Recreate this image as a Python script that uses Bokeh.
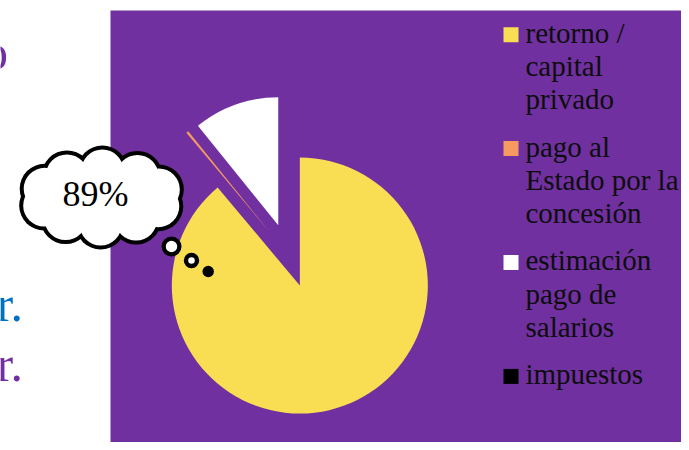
import numpy as np
from bokeh.plotting import figure
from bokeh.models import Range1d
from bokeh.core.properties import value
from bokeh.embed import file_html
from bokeh.resources import INLINE

# ---- data ----
categories = ["retorno / capital privado", "pago al Estado por la concesión",
              "estimación pago de salarios", "impuestos"]
legend_lines = [["retorno /", "capital", "privado"],
                ["pago al", "Estado por la", "concesión"],
                ["estimación", "pago de", "salarios"],
                ["impuestos"]]
shares = [88.9, 0.3, 10.8, 0.0]
colors = ["#F9DE54", "#F79A62", "#FFFFFF", "#000000"]
callout_text = ["89%"]
side_texts = ["o", "r.", "r."]
side_colors = ["#7030A0", "#0070C0", "#7030A0"]

PURPLE = "#7030A0"
SERIF = value("Liberation Serif")
W, H = 681, 442
BASE_FIX = 0.33  # baseline correction (in em) for the svg text renderer


def sy(y):
    """picture y (from top) -> data y"""
    return H - y


def ty(baseline, fs):
    return sy(baseline - BASE_FIX * fs)


p = figure(width=W, height=H, x_range=Range1d(0, W), y_range=Range1d(0, H),
           output_backend="svg", toolbar_location=None, min_border=0,
           x_axis_location=None, y_axis_location=None)
p.xgrid.grid_line_color = None
p.ygrid.grid_line_color = None
p.outline_line_color = None
p.background_fill_color = "white"
p.border_fill_color = "white"

# purple chart area
p.quad(left=110, right=W, bottom=0, top=sy(10), fill_color=PURPLE, line_color=None)

# ---- pie (clockwise from 12 o'clock, every slice exploded) ----
frac = np.array(shares, dtype=float) / sum(shares)
cum = np.concatenate([[0.0], np.cumsum(frac)])
start = np.pi / 2 - 2 * np.pi * cum[:-1]
end = np.pi / 2 - 2 * np.pi * cum[1:]
mid = (start + end) / 2
cx, cy, R, explode = 288.4, sy(255), 128, 32
keep = [i for i in range(len(shares)) if frac[i] > 0]
p.wedge(x=[cx + explode * np.cos(mid[i]) for i in keep],
        y=[cy + explode * np.sin(mid[i]) for i in keep],
        radius=R,
        start_angle=[start[i] for i in keep],
        end_angle=[end[i] for i in keep],
        direction="clock",
        fill_color=[colors[i] for i in keep], line_color=None)

# ---- thought cloud ----
ccx, ccy = 101, sy(197)
t = np.linspace(0, 2 * np.pi, 10, endpoint=False) + 0.3
bx = ccx + 60 * np.cos(t)
by = ccy + 27 * np.sin(t)
p.circle(bx, by, radius=25, fill_color="black", line_color=None)
p.circle(bx, by, radius=21, fill_color="white", line_color=None)
p.ellipse(ccx, ccy, width=120, height=54, fill_color="white", line_color=None)
p.circle([171, 191, 207.7], [sy(246), sy(260), sy(271)], radius=[10, 7.7, 5.7],
         fill_color="black", line_color=None)
p.circle([171, 191], [sy(246), sy(260)], radius=[5.7, 3.3],
         fill_color="white", line_color=None)
p.text(x=[95], y=[ty(205, 36)], text=callout_text, text_font=SERIF, text_font_size="36px",
       text_align="center", text_baseline="alphabetic", text_color="black")

# ---- side texts (cut off at the left edge, as in the slide) ----
p.text(x=[7.5, 22.5, 22.5], y=[ty(68, 50), ty(320, 50), ty(380, 50)], text=side_texts,
       text_color=side_colors, text_font=SERIF, text_font_size="50px",
       text_align="right", text_baseline="alphabetic")

# ---- legend ----
FS = 29
line_h, gap = 33.3, 14
base = 41.7
lx, ly, lt = [], [], []
sq_y = []
for lines in legend_lines:
    sq_y.append(sy(base - 7.5))
    for j, ln in enumerate(lines):
        lx.append(525)
        ly.append(ty(base + j * line_h, FS))
        lt.append(ln)
    base += len(lines) * line_h + gap
p.rect(x=[510.5] * len(sq_y), y=sq_y, width=15, height=15,
       fill_color=colors, line_color=None)
p.text(x=lx, y=ly, text=lt, text_font=SERIF, text_font_size=f"{FS}px",
       text_align="left", text_baseline="alphabetic", text_color="#0d0d0d")

open("out.html", "w").write(file_html(p, INLINE))
